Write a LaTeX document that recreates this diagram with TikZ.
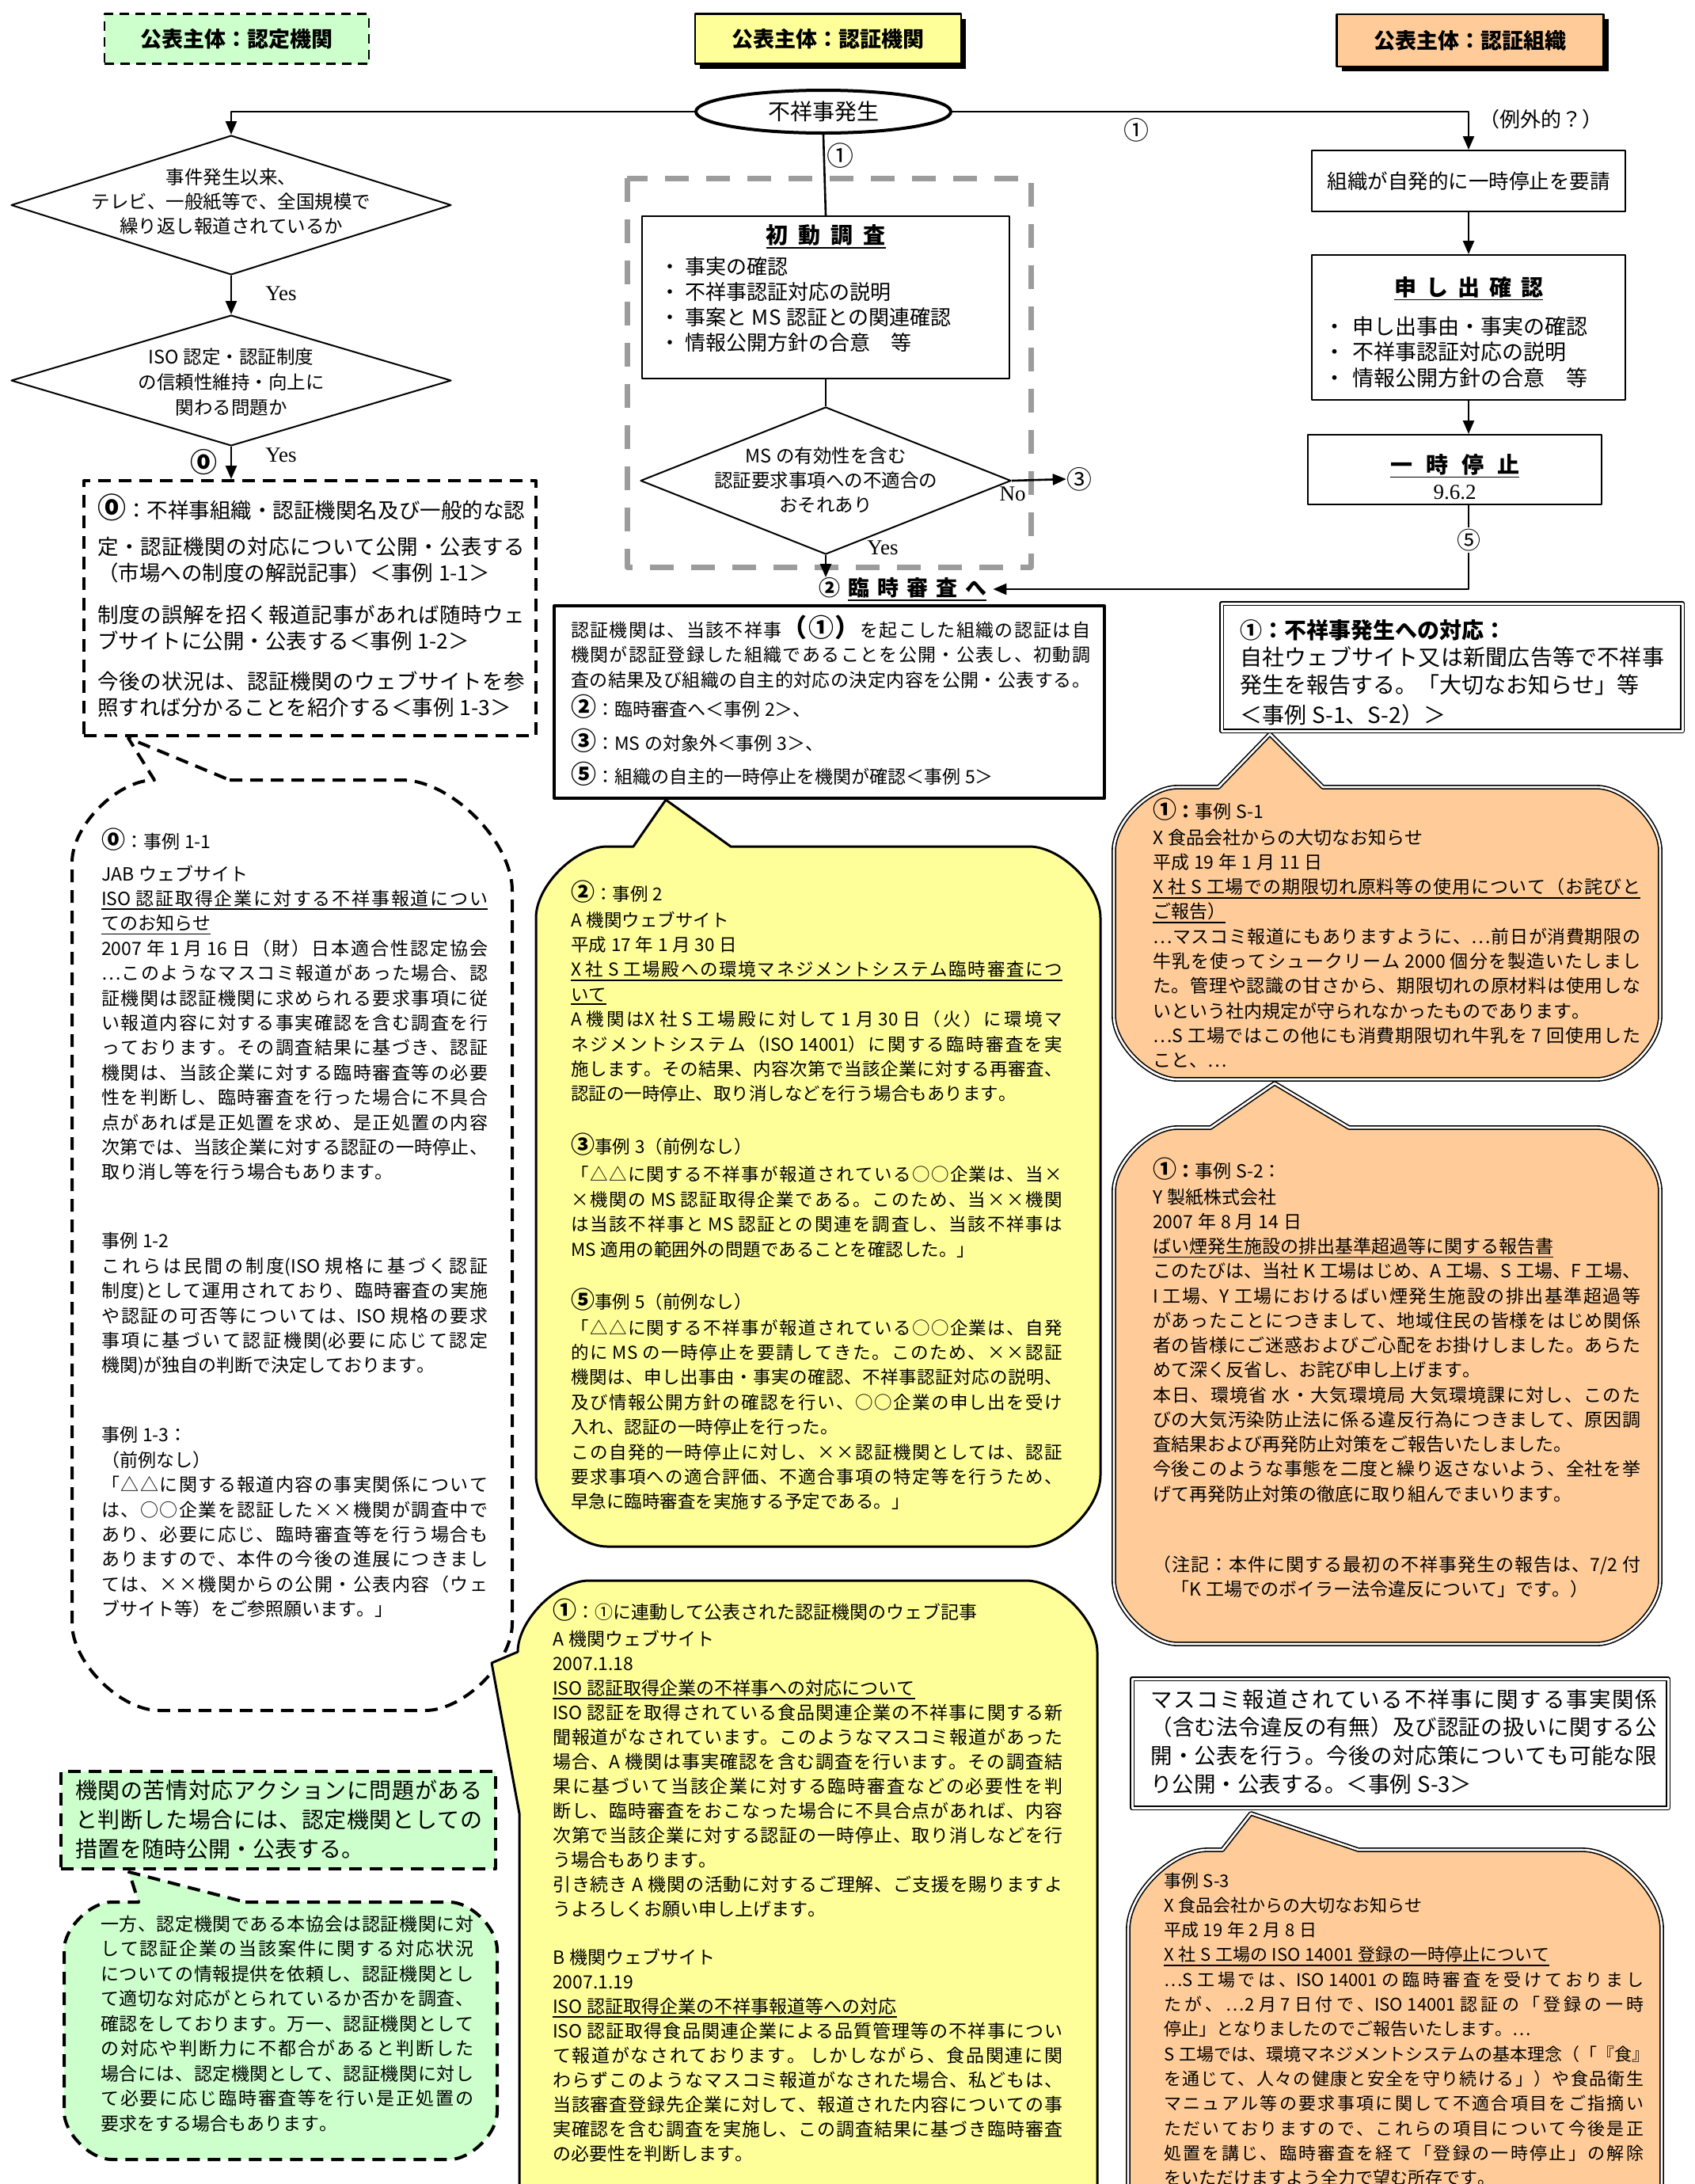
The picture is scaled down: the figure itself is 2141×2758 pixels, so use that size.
\documentclass[tikz,border=0pt]{standalone}
\usepackage{fontspec}
\setmainfont{Noto Sans CJK JP}
\newfontfamily\lat{Liberation Serif}
\usetikzlibrary{shapes.geometric,arrows.meta,shadows}
\newcount\cjkc
\def\setcls#1#2{\cjkc=#1\relax\loop\XeTeXcharclass\cjkc=7\relax\ifnum\cjkc<#2\advance\cjkc by 1\repeat}
\setcls{"3000}{"30FF}
\setcls{"4E00}{"9FFF}
\setcls{"FF00}{"FFEF}
\setcls{"2460}{"24FF}
\XeTeXcharclass"2026=7\relax
\XeTeXcharclass"25B3=7\relax
\XeTeXcharclass"25CB=7\relax
\XeTeXcharclass"00D7=7\relax
\XeTeXinterchartoks 7 7 = {\hskip 0pt plus 1pt\relax}
\XeTeXinterchartokenstate=1
\definecolor{yel}{HTML}{FFFF99}
\definecolor{org}{HTML}{FFCC99}
\definecolor{grn}{HTML}{CCFFCC}
\definecolor{gfr}{HTML}{9C9C9C}
\newcommand\fsz[2]{\fontsize{#1}{#2}\selectfont}
\newcommand\Lj[1]{\hbox to \hsize{#1}}
\newcommand\Ll[1]{\hbox to \hsize{#1\hfil}}
\newcommand\Lc[1]{\hbox to \hsize{\hfil#1\hfil}}
\newcommand\uln[1]{\vtop{\hbox{#1}\kern2pt\hrule height 1.8pt}}
\newcommand\Lu[1]{\hbox to \hsize{\uln{#1}\hfil}}
\newcommand\Luj[1]{\hbox to \hsize{\vtop{\hbox to \hsize{#1}\kern2pt\hrule height 1.8pt}}}
\newcommand\BN[2][30]{{\fontsize{#1}{#1}\selectfont\bfseries #2}}
\newcommand\blk[4]{\vtop{\hsize=#1pt\fsz{#2}{#3}\spaceskip=0.26em\relax\xspaceskip=0.26em\relax\lineskiplimit=-1000pt\relax #4}}
\begin{document}
\begin{tikzpicture}[x=1pt,y=-1pt,line join=round,
  conn/.style={line width=2.6pt},
  arr/.style={line width=2.6pt,-{Triangle[length=17pt,width=14pt]}},
  box/.style={draw,line width=2pt,inner sep=0pt},
  hdrbox/.style={draw,line width=2.5pt,inner sep=0pt,minimum height=63pt,font=\fsz{27}{32}\bfseries},
  shd/.style={drop shadow={shadow xshift=6pt,shadow yshift=-6pt,opacity=1,fill=black}},
  lbal/.style={draw,line width=4pt,dash pattern=on 16pt off 10pt,fill=white},
  ybal/.style={draw,line width=3pt,fill=yel},
  obal/.style={draw,line width=1.6pt,double=white,double distance=2.6pt,fill=org},
  gbal/.style={draw,line width=4pt,dash pattern=on 16pt off 10pt,fill=grn},
  lbl/.style={inner sep=0pt},
  txt/.style={anchor=base west,inner sep=0pt}]
\useasboundingbox (0,0) rectangle (2141,2758);
\clip (0,0) rectangle (2141,2758);

% ---------- headers
\node[hdrbox,dash pattern=on 12pt off 8pt,fill=grn,minimum width=334pt] (h1) at (299,49) {公表主体：認定機関};
\node[hdrbox,shd,fill=yel,minimum width=336pt] (h2) at (1046,49) {公表主体：認証機関};
\node[hdrbox,shd,fill=org,minimum width=337pt,minimum height=66pt] (h3) at (1857,51) {公表主体：認証組織};

% ---------- balloons (drawn first)
\path[lbal] (290,985) -- (507,985) .. controls (569.7,985) and (647,1062.3) .. (647,1125) -- (647,2050) .. controls (647,2099.3) and (586.3,2160) .. (537,2160) -- (201,2160) .. controls (151.7,2160) and (91,2099.3) .. (91,2050) -- (91,1089) .. controls (91,1042.4) and (148.4,985) .. (195,985) -- (162,932) -- cycle;
\path[ybal] (923,1069) -- (1300,1069) .. controls (1340.3,1069) and (1390,1118.7) .. (1390,1159) -- (1390,1863) .. controls (1390,1903.3) and (1340.3,1953) .. (1300,1953) -- (767,1953) .. controls (726.7,1953) and (677,1903.3) .. (677,1863) -- (677,1159) .. controls (677,1118.7) and (726.7,1069) .. (767,1069) -- (800,1069) -- (841,1010) -- cycle;
\path[ybal] (744,1996) -- (1296,1996) .. controls (1336.3,1996) and (1386,2045.7) .. (1386,2086) -- (1386,2900) -- (656,2900) -- (656,2290) -- (621,2100) -- (654,2086) .. controls (654,2045.7) and (703.7,1996) .. (744,1996) -- cycle;
\path[obal] (1671,994) -- (2017,994) .. controls (2052.8,994) and (2097,1038.2) .. (2097,1074) -- (2097,1283) .. controls (2097,1318.8) and (2052.8,1363) .. (2017,1363) -- (1487,1363) .. controls (1451.2,1363) and (1407,1318.8) .. (1407,1283) -- (1407,1074) .. controls (1407,1038.2) and (1451.2,994) .. (1487,994) -- (1539,994) -- (1604,927) -- cycle;
\path[obal] (1704,1424) -- (2017,1424) .. controls (2052.8,1424) and (2097,1468.2) .. (2097,1504) -- (2097,1996) .. controls (2097,2031.8) and (2052.8,2076) .. (2017,2076) -- (1487,2076) .. controls (1451.2,2076) and (1407,2031.8) .. (1407,1996) -- (1407,1504) .. controls (1407,1468.2) and (1451.2,1424) .. (1487,1424) -- (1529,1424) -- (1610,1368) -- cycle;
\path[obal] (1716,2336) -- (1999,2336) .. controls (2043.8,2336) and (2099,2391.2) .. (2099,2436) -- (2099,2900) -- (1425,2900) -- (1425,2436) .. controls (1425,2391.2) and (1480.2,2336) .. (1525,2336) -- (1544,2336) -- (1580,2290) -- cycle;
\path[gbal] (310,2402) -- (568,2402) .. controls (594.9,2402) and (628,2435.1) .. (628,2462) -- (628,2667) .. controls (628,2693.9) and (594.9,2727) .. (568,2727) -- (141,2727) .. controls (114.1,2727) and (81,2693.9) .. (81,2667) -- (81,2462) .. controls (81,2435.1) and (114.1,2402) .. (141,2402) -- (175,2402) -- (163,2364) -- cycle;

% ---------- ellipse
\node[ellipse,draw,line width=4pt,minimum width=322pt,minimum height=54pt,inner sep=0pt,font=\fsz{28}{30}] (ev) at (1040,141) {不祥事発生};

% ---------- middle column
\draw[gfr,line width=7pt,dash pattern=on 30pt off 22pt] (792,225) rectangle (1302,716);
\node[box,fill=white,minimum width=464pt,minimum height=205pt] (inv) at (1043,375.5) {};
\node[anchor=base,inner sep=0pt,font=\fsz{28}{30}\bfseries] (invt) at (1043,307) {\uln{初\kern13pt 動\kern13pt 調\kern13pt 査}};
\node[txt] (invb) at (833,346) {\blk{420}{26}{32.3}{%
\Ll{・\hspace{6pt}事実の確認}
\Ll{・\hspace{6pt}不祥事認証対応の説明}
\Ll{・\hspace{6pt}事案と MS 認証との関連確認}
\Ll{・\hspace{6pt}情報公開方針の合意　等}}};
\node[diamond,draw,line width=2pt,fill=white,minimum width=468pt,minimum height=186pt,inner sep=0pt] (msd) at (1043,607) {};
\node[anchor=base,inner sep=0pt] (msdt) at (1043,584) {\blk{360}{23.5}{31}{%
\Lc{MS の有効性を含む}\Lc{認証要求事項への不適合の}\Lc{おそれあり}}};
\draw[conn] (ev.south) -- (inv.north);
\node[lbl,anchor=west,font=\fsz{34}{34}] (m1) at (1044,197) {①};
\draw[conn] (inv.south) -- (msd.north);
\node[lbl,font=\fsz{32}{32}] (c3) at (1363,605) {③};
\draw[arr] (msd.east) -- (c3.west);
\node[lbl,font=\lat\fsz{27}{30}] (no) at (1279,624) {No};
\node[lbl,font=\lat\fsz{27}{30}] (yes3) at (1115,692) {Yes};
\node[lbl,anchor=west,font=\fsz{27}{30}\bfseries] (rinji) at (1034,744) {②\kern10pt\uln{臨\kern10pt 時\kern10pt 審\kern10pt 査\kern10pt へ}};
\draw[arr] (msd.south) -- (msd.south |- rinji.north);

% ---------- right column
\node[box,minimum width=396pt,minimum height=77pt,font=\fsz{25.5}{30}] (b1) at (1855,228.5) {組織が自発的に一時停止を要請};
\node[box,minimum width=396pt,minimum height=183pt] (b2) at (1855,413.5) {};
\node[anchor=base,inner sep=0pt,font=\fsz{28}{30}\bfseries] (b2t) at (1855,373) {\uln{申\kern12pt し\kern12pt 出\kern12pt 確\kern12pt 認}};
\node[txt] (b2b) at (1672,422) {\blk{380}{27}{32.5}{%
\Ll{・\hspace{9pt}申し出事由・事実の確認}
\Ll{・\hspace{9pt}不祥事認証対応の説明}
\Ll{・\hspace{9pt}情報公開方針の合意　等}}};
\node[box,minimum width=371pt,minimum height=88pt] (b3) at (1837.5,593) {};
\node[anchor=base,inner sep=0pt,font=\fsz{28}{30}\bfseries] (b3t) at (1837.5,597) {\uln{一\kern17pt 時\kern17pt 停\kern17pt 止}};
\node[anchor=base,inner sep=0pt,font=\lat\fsz{27}{30}] (b3n) at (1837.5,630) {9.6.2};
\draw[arr] (ev.east) -| (b1.north);
\node[lbl,font=\fsz{32}{32}] (r1l) at (1435,164) {①};
\node[lbl,anchor=west,font=\fsz{26}{30}] (reigai) at (1868,151) {（例外的？）};
\draw[arr] (b1.south) -- (b2.north);
\draw[arr] (b2.south) -- (b2.south |- b3.north);
\node[inner sep=2pt,fill=white,font=\fsz{30}{30}] (c5) at (1855,682) {⑤};
\draw[conn] (b3.south -| b2.south) -- (c5.north);
\draw[arr] (c5.south) |- ([xshift=8pt]rinji.east);

% ---------- left column
\node[diamond,draw,line width=2pt,minimum width=556pt,minimum height=176pt,inner sep=0pt] (d1) at (292,259) {};
\node[anchor=base,inner sep=0pt] (d1t) at (292,232) {\blk{420}{23.5}{31}{%
\Lc{事件発生以来、}\Lc{テレビ、一般紙等で、全国規模で}\Lc{繰り返し報道されているか}}};
\node[diamond,draw,line width=2pt,minimum width=556pt,minimum height=165pt,inner sep=0pt] (d2) at (292,480.5) {};
\node[anchor=base,inner sep=0pt] (d2t) at (292,459) {\blk{420}{23.5}{32}{%
\Lc{ISO 認定・認証制度}\Lc{の信頼性維持・向上に}\Lc{関わる問題か}}};
\draw[arr] (ev.west) -| (d1.north);
\draw[arr] (d1.south) -- (d2.north);
\node[lbl,font=\lat\fsz{27}{30}] (yes1) at (355,371) {Yes};
\node[box,line width=4pt,dash pattern=on 16pt off 10pt,minimum width=571pt,minimum height=322pt] (box0) at (391.5,768) {};
\draw[arr] (d2.south) -- (d2.south |- box0.north);
\node[lbl,font=\fsz{34}{34}\bfseries] (z0) at (257,584) {⓪};
\node[lbl,font=\lat\fsz{27}{30}] (yes2) at (355,575) {Yes};
\node[txt] (t0) at (123,654) {\blk{540}{26.5}{33.3}{%
\Lj{\BN[36]{⓪}：不祥事組織・認証機関名及び一般的な認}\vskip12.7pt
\Lj{定・認証機関の対応について公開・公表する}
\Ll{（市場への制度の解説記事）＜事例 1-1＞}\vskip19.7pt
\Lj{制度の誤解を招く報道記事があれば随時ウェ}
\Ll{ブサイトに公開・公表する＜事例 1-2＞}\vskip17.7pt
\Lj{今後の状況は、認証機関のウェブサイトを参}
\Ll{照すれば分かることを紹介する＜事例 1-3＞}}};

% ---------- boxes in the middle / right
\node[draw,line width=4pt,fill=white,minimum width=695pt,minimum height=243pt,inner sep=0pt] (mb) at (1047.5,886.5) {};
\node[txt] (tmbox) at (721,804) {\blk{656}{23}{31.5}{%
\Lj{認証機関は、当該不祥事\BN[32]{（①）}を起こした組織の認証は自}
\Lj{機関が認証登録した組織であることを公開・公表し、初動調}
\Lj{査の結果及び組織の自主的対応の決定内容を公開・公表する。}\vskip5.5pt
\Ll{\BN[32]{②}：臨時審査へ＜事例 2＞、}\vskip11.5pt
\Ll{\BN[32]{③}：MS の対象外＜事例 3＞、}\vskip10.5pt
\Ll{\BN[32]{⑤}：組織の自主的一時停止を機関が確認＜事例 5＞}}};
\node[draw,line width=1.5pt,double=white,double distance=3pt,fill=white,minimum width=582pt,minimum height=161pt,inner sep=0pt] (r1) at (1834,842.5) {};
\node[txt] (tr1) at (1566,806) {\blk{536}{28}{34.5}{%
\Ll{\bfseries ①：不祥事発生への対応：}
\Lj{自社ウェブサイト又は新聞広告等で不祥事}
\Ll{発生を報告する。「大切なお知らせ」等}\vskip3.5pt
\Ll{＜事例 S-1、S-2）＞}}};
\node[draw,line width=1.5pt,double=white,double distance=3pt,fill=white,minimum width=677pt,minimum height=163pt,inner sep=0pt] (masu) at (1768.5,2201.5) {};
\node[txt] (tmasu) at (1453,2156) {\blk{640}{27.5}{35.7}{%
\Lj{マスコミ報道されている不祥事に関する事実関係}
\Lj{（含む法令違反の有無）及び認証の扱いに関する公}
\Lj{開・公表を行う。今後の対応策についても可能な限}
\Ll{り公開・公表する。＜事例 S-3＞}}};
\node[draw,line width=4pt,dash pattern=on 16pt off 10pt,fill=grn,minimum width=549pt,minimum height=123pt,inner sep=0pt] (gbox) at (351.5,2298.5) {};
\node[txt] (tg) at (95,2271) {\blk{514}{28}{37}{%
\Lj{機関の苦情対応アクションに問題がある}
\Lj{と判断した場合には、認定機関としての}
\Ll{措置を随時公開・公表する。}}};

% ---------- balloon texts
\node[txt] (tl) at (128,1071) {\blk{488}{23}{31.4}{%
\Ll{\BN{⓪}：事例 1-1}\vskip9.6pt
\Ll{JAB ウェブサイト}
\Luj{ISO 認証取得企業に対する不祥事報道につい}
\Lu{てのお知らせ}
\Lj{2007 年 1 月 16 日（財）日本適合性認定協会}
\Lj{…このようなマスコミ報道があった場合、認}
\Lj{証機関は認証機関に求められる要求事項に従}
\Lj{い報道内容に対する事実確認を含む調査を行}
\Lj{っております。その調査結果に基づき、認証}
\Lj{機関は、当該企業に対する臨時審査等の必要}
\Lj{性を判断し、臨時審査を行った場合に不具合}
\Lj{点があれば是正処置を求め、是正処置の内容}
\Lj{次第では、当該企業に対する認証の一時停止、}
\Ll{取り消し等を行う場合もあります。}\vskip55.6pt
\Ll{事例 1-2}
\Lj{これらは民間の制度(ISO 規格に基づく認証}
\Lj{制度)として運用されており、臨時審査の実施}
\Lj{や認証の可否等については、ISO 規格の要求}
\Lj{事項に基づいて認証機関(必要に応じて認定}
\Ll{機関)が独自の判断で決定しております。}\vskip56.6pt
\Ll{事例 1-3：}
\Ll{（前例なし）}
\Lj{「△△に関する報道内容の事実関係について}
\Lj{は、○○企業を認証した××機関が調査中で}
\Lj{あり、必要に応じ、臨時審査等を行う場合も}
\Lj{ありますので、本件の今後の進展につきまし}
\Lj{ては、××機関からの公開・公表内容（ウェ}
\Ll{ブサイト等）をご参照願います。」}}};

\node[txt] (tma) at (721,1137) {\blk{621}{22.5}{31.4}{%
\Ll{\BN{②}：事例 2}\vskip1.6pt
\Ll{A 機関ウェブサイト}
\Ll{平成 17 年 1 月 30 日}
\Luj{X 社 S 工場殿への環境マネジメントシステム臨時審査につ}
\Lu{いて}
\Lj{A 機関はX 社 S 工場殿に対して 1 月 30 日（火）に環境マ}
\Lj{ネジメントシステム（ISO 14001）に関する臨時審査を実}
\Lj{施します。その結果、内容次第で当該企業に対する再審査、}
\Ll{認証の一時停止、取り消しなどを行う場合もあります。}\vskip35.6pt
\Ll{\BN{③}事例 3（前例なし）}\vskip3.6pt
\Lj{「△△に関する不祥事が報道されている○○企業は、当×}
\Lj{×機関の MS 認証取得企業である。このため、当××機関}
\Lj{は当該不祥事と MS 認証との関連を調査し、当該不祥事は}
\Ll{MS 適用の範囲外の問題であることを確認した。」}\vskip34.6pt
\Ll{\BN{⑤}事例 5（前例なし）}\vskip1.6pt
\Lj{「△△に関する不祥事が報道されている○○企業は、自発}
\Lj{的に MS の一時停止を要請してきた。このため、××認証}
\Lj{機関は、申し出事由・事実の確認、不祥事認証対応の説明、}
\Lj{及び情報公開方針の確認を行い、○○企業の申し出を受け}
\Ll{入れ、認証の一時停止を行った。}
\Lj{この自発的一時停止に対し、××認証機関としては、認証}
\Lj{要求事項への適合評価、不適合事項の特定等を行うため、}
\Ll{早急に臨時審査を実施する予定である。」}}};

\node[txt] (tmb) at (698,2044) {\blk{644}{23}{31}{%
\Ll{\BN{①}：①に連動して公表された認証機関のウェブ記事}\vskip3pt
\Ll{A 機関ウェブサイト}
\Ll{2007.1.18}
\Lu{ISO 認証取得企業の不祥事への対応について}
\Lj{ISO 認証を取得されている食品関連企業の不祥事に関する新}
\Lj{聞報道がなされています。このようなマスコミ報道があった}
\Lj{場合、A 機関は事実確認を含む調査を行います。その調査結}
\Lj{果に基づいて当該企業に対する臨時審査などの必要性を判}
\Lj{断し、臨時審査をおこなった場合に不具合点があれば、内容}
\Lj{次第で当該企業に対する認証の一時停止、取り消しなどを行}
\Ll{う場合もあります。}
\Lj{引き続き A 機関の活動に対するご理解、ご支援を賜りますよ}
\Ll{うよろしくお願い申し上げます。}\vskip30pt
\Ll{B 機関ウェブサイト}
\Ll{2007.1.19}
\Lu{ISO 認証取得企業の不祥事報道等への対応}
\Lj{ISO 認証取得食品関連企業による品質管理等の不祥事につい}
\Lj{て報道がなされております。 しかしながら、食品関連に関}
\Lj{わらずこのようなマスコミ報道がなされた場合、私どもは、}
\Lj{当該審査登録先企業に対して、報道された内容についての事}
\Lj{実確認を含む調査を実施し、この調査結果に基づき臨時審査}
\Ll{の必要性を判断します。}}};

\node[txt] (ts1) at (1456,1033) {\blk{616}{23}{31.3}{%
\Ll{\BN{①}{\bfseries ：}事例 S-1}\vskip1.7pt
\Ll{X 食品会社からの大切なお知らせ}
\Ll{平成 19 年 1 月 11 日}
\Luj{X 社 S 工場での期限切れ原料等の使用について（お詫びと}
\Lu{ご報告）}
\Lj{…マスコミ報道にもありますように、…前日が消費期限の}
\Lj{牛乳を使ってシュークリーム 2000 個分を製造いたしまし}
\Lj{た。管理や認識の甘さから、期限切れの原材料は使用しな}
\Ll{いという社内規定が守られなかったものであります。}
\Lj{…S 工場ではこの他にも消費期限切れ牛乳を 7 回使用した}
\Ll{こと、…}}};

\node[txt] (ts2) at (1456,1487) {\blk{616}{23}{31.25}{%
\Ll{\BN{①}{\bfseries ：}事例 S-2：}\vskip1.75pt
\Ll{Y 製紙株式会社}
\Ll{2007 年 8 月 14 日}
\Lu{ばい煙発生施設の排出基準超過等に関する報告書}
\Lj{このたびは、当社 K 工場はじめ、A 工場、S 工場、F 工場、}
\Lj{I 工場、Y 工場におけるばい煙発生施設の排出基準超過等}
\Lj{があったことにつきまして、地域住民の皆様をはじめ関係}
\Lj{者の皆様にご迷惑およびご心配をお掛けしました。あらた}
\Ll{めて深く反省し、お詫び申し上げます。}
\Lj{本日、環境省 水・大気環境局 大気環境課に対し、このた}
\Lj{びの大気汚染防止法に係る違反行為につきまして、原因調}
\Ll{査結果および再発防止対策をご報告いたしました。}
\Lj{今後このような事態を二度と繰り返さないよう、全社を挙}
\Ll{げて再発防止対策の徹底に取り組んでまいります。}\vskip57.75pt
\Lj{（注記：本件に関する最初の不祥事発生の報告は、7/2 付}
\Ll{　「K 工場でのボイラー法令違反について」です。）}}};

\node[txt] (ts3) at (1470,2383) {\blk{606}{22}{31.3}{%
\Ll{事例 S-3}
\Ll{X 食品会社からの大切なお知らせ}
\Ll{平成 19 年 2 月 8 日}
\Lu{X 社 S 工場の ISO 14001 登録の一時停止について}
\Lj{…S 工場では、ISO 14001 の臨時審査を受けておりまし}
\Lj{たが、…2 月 7 日付で、ISO 14001 認証の「登録の一時}
\Ll{停止」となりましたのでご報告いたします。…}
\Lj{S 工場では、環境マネジメントシステムの基本理念（「『食』}
\Lj{を通じて、人々の健康と安全を守り続ける」）や食品衛生}
\Lj{マニュアル等の要求事項に関して不適合項目をご指摘い}
\Lj{ただいておりますので、これらの項目について今後是正}
\Lj{処置を講じ、臨時審査を経て「登録の一時停止」の解除}
\Ll{をいただけますよう全力で望む所存です。}}};

\node[txt] (tgb) at (127,2438) {\blk{471}{23}{31.5}{%
\Lj{一方、認定機関である本協会は認証機関に対}
\Lj{して認証企業の当該案件に関する対応状況}
\Lj{についての情報提供を依頼し、認証機関とし}
\Lj{て適切な対応がとられているか否かを調査、}
\Lj{確認をしております。万一、認証機関として}
\Lj{の対応や判断力に不都合があると判断した}
\Lj{場合には、認定機関として、認証機関に対し}
\Lj{て必要に応じ臨時審査等を行い是正処置の}
\Ll{要求をする場合もあります。}}};
\end{tikzpicture}
\end{document}
